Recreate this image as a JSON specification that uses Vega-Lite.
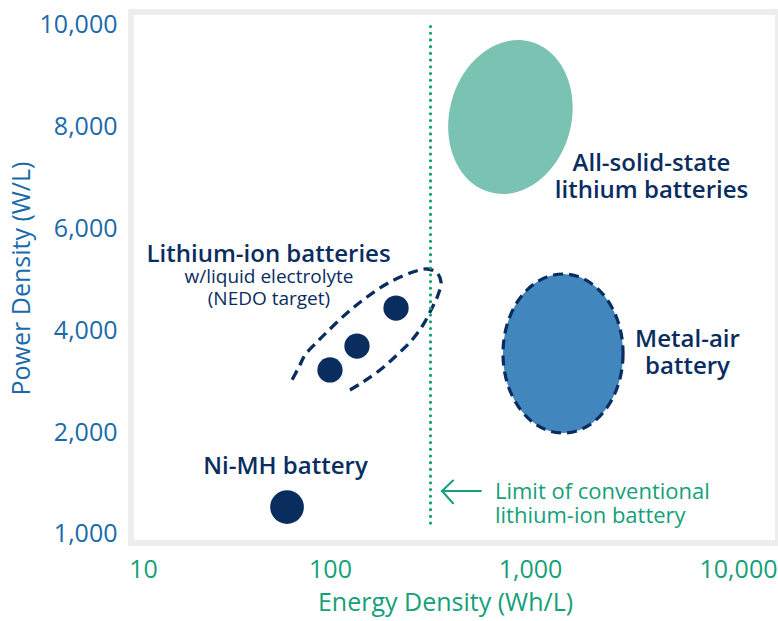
{
  "$schema": "https://vega.github.io/schema/vega-lite/v6.json",
  "width": 647,
  "height": 531,
  "autosize": {"type": "none"},
  "padding": {"left": 131, "top": 12, "right": 0, "bottom": 78},
  "background": "white",
  "config": {
    "font": "Open Sans",
    "view": {"stroke": "#000000", "strokeOpacity": 0.07, "strokeWidth": 6}
  },
  "datasets": {
    "batteries": [
      {"name": "Ni-MH battery", "group": "nimh", "energy": 56.1, "power": 1257},
      {"name": "Li-ion A", "group": "liion", "energy": 92.2, "power": 3216},
      {"name": "Li-ion B", "group": "liion", "energy": 126, "power": 3686},
      {"name": "Li-ion C", "group": "liion", "energy": 198, "power": 4431},
      {"name": "All-solid-state lithium batteries", "group": "solid", "energy": 744, "power": 8176},
      {"name": "Metal-air battery", "group": "metalair", "energy": 1367, "power": 3539}
    ],
    "outline": [
      {"i": 1, "energy": 116.2, "power": 2824},
      {"i": 2, "energy": 135.1, "power": 2980},
      {"i": 3, "energy": 164.5, "power": 3216},
      {"i": 4, "energy": 200.2, "power": 3510},
      {"i": 5, "energy": 238.1, "power": 3804},
      {"i": 6, "energy": 270.5, "power": 4098},
      {"i": 7, "energy": 300.2, "power": 4431},
      {"i": 8, "energy": 321.7, "power": 4686},
      {"i": 9, "energy": 333.1, "power": 4941},
      {"i": 10, "energy": 318.1, "power": 5118},
      {"i": 11, "energy": 283.4, "power": 5196},
      {"i": 12, "energy": 240.9, "power": 5137},
      {"i": 13, "energy": 184.6, "power": 4941},
      {"i": 14, "energy": 141.5, "power": 4647},
      {"i": 15, "energy": 112.3, "power": 4333},
      {"i": 16, "energy": 89.07, "power": 3961},
      {"i": 17, "energy": 78.44, "power": 3745},
      {"i": 18, "energy": 69.06, "power": 3510},
      {"i": 19, "energy": 64.42, "power": 3275},
      {"i": 20, "energy": 59.41, "power": 3020}
    ],
    "limit": [
      {"energy": 295, "power": 9950, "power2": 1060}
    ],
    "arrow": [
      {"seg": "shaft", "i": 0, "energy": 529, "power": 1416},
      {"seg": "shaft", "i": 1, "energy": 337, "power": 1416},
      {"seg": "head", "i": 0, "energy": 383, "power": 1520},
      {"seg": "head", "i": 1, "energy": 337, "power": 1416},
      {"seg": "head", "i": 2, "energy": 383, "power": 1295}
    ],
    "labels": [
      {"text": "Lithium-ion batteries", "energy": 45.3, "power": 5333, "kind": "title"},
      {"text": "w/liquid electrolyte\n(NEDO target)", "energy": 45.5, "power": 4912, "kind": "sub"},
      {"text": "All-solid-state\nlithium batteries", "energy": 3805, "power": 7118, "kind": "title"},
      {"text": "Metal-air\nbattery", "energy": 5771, "power": 3667, "kind": "title"},
      {"text": "Ni-MH battery", "energy": 55.1, "power": 1584, "kind": "title"},
      {"text": "Limit of conventional\nlithium-ion battery", "energy": 622, "power": 1337, "kind": "note"}
    ]
  },
  "encoding": {
    "x": {
      "field": "energy",
      "type": "quantitative",
      "scale": {"type": "log", "domain": [10, 10000], "range": [7, 604], "nice": false},
      "axis": {
        "values": [10, 100, 1000, 10000],
        "labelExpr": "format(datum.value, ',')",
        "labelFontSize": 25,
        "labelColor": "#14a07a",
        "labelPadding": 14,
        "labelOffset": {"condition": [
          {"test": "datum.value == 10", "value": 5},
          {"test": "datum.value == 100", "value": -7},
          {"test": "datum.value == 1000", "value": -6}
        ], "value": 3},
        "labelFlush": false,
        "labelOverlap": false,
        "domain": false,
        "ticks": false,
        "tickSize": 0,
        "grid": false,
        "title": "Energy Density (Wh/L)",
        "titleFontSize": 25,
        "titleColor": "#14a07a",
        "titleFontWeight": "normal",
        "titleX": 314,
        "titleY": 47,
        "titleBaseline": "top",
        "titleAlign": "center"
      }
    },
    "y": {
      "field": "power",
      "type": "quantitative",
      "scale": {"domain": [1000, 2000, 10000], "range": [521, 420, 12], "nice": false, "zero": false},
      "axis": {
        "values": [1000, 2000, 4000, 6000, 8000, 10000],
        "labelExpr": "format(datum.value, ',')",
        "labelFontSize": 25,
        "labelColor": "#1a6aab",
        "labelPadding": 14,
        "labelFlush": false,
        "labelOverlap": false,
        "domain": false,
        "ticks": false,
        "tickSize": 0,
        "grid": false,
        "title": "Power Density (W/L)",
        "titleFontSize": 25,
        "titleColor": "#1a6aab",
        "titleFontWeight": "normal",
        "titleX": -97,
        "titleY": 266,
        "titleAngle": -90,
        "titleBaseline": "bottom",
        "titleAlign": "center"
      }
    }
  },
  "layer": [
    {
      "data": {"name": "batteries"},
      "transform": [{"filter": "datum.group == 'solid'"}],
      "mark": {
        "type": "point",
        "filled": true,
        "opacity": 1,
        "color": "#7ac3b2",
        "shape": "M 0.782 0 C 0.782 0.5523 0.4319 1 0 1 C -0.4319 1 -0.782 0.5523 -0.782 0 C -0.782 -0.5523 -0.4319 -1 0 -1 C 0.4319 -1 0.782 -0.5523 0.782 0 Z",
        "size": 24336,
        "angle": 15
      }
    },
    {
      "data": {"name": "batteries"},
      "transform": [{"filter": "datum.group == 'metalair'"}],
      "mark": {
        "type": "point",
        "filled": true,
        "opacity": 1,
        "fill": "#4286be",
        "stroke": "#0a2d5f",
        "strokeWidth": 3.2,
        "strokeDash": [10, 6],
        "shape": "M 0.755 0 C 0.755 0.5523 0.417 1 0 1 C -0.417 1 -0.755 0.5523 -0.755 0 C -0.755 -0.5523 -0.417 -1 0 -1 C 0.417 -1 0.755 -0.5523 0.755 0 Z",
        "size": 25281
      }
    },
    {
      "data": {"name": "outline"},
      "mark": {
        "type": "line",
        "color": "#0a2d5f",
        "strokeWidth": 3.3,
        "strokeDash": [10, 6],
        "interpolate": "catmull-rom"
      },
      "encoding": {"order": {"field": "i", "type": "quantitative"}}
    },
    {
      "data": {"name": "batteries"},
      "transform": [{"filter": "datum.group == 'liion'"}],
      "mark": {"type": "point", "shape": "circle", "filled": true, "opacity": 1, "color": "#0a2d5f", "size": 638}
    },
    {
      "data": {"name": "batteries"},
      "transform": [{"filter": "datum.group == 'nimh'"}],
      "mark": {"type": "point", "shape": "circle", "filled": true, "opacity": 1, "color": "#0a2d5f", "size": 1134}
    },
    {
      "data": {"name": "limit"},
      "mark": {
        "type": "rule",
        "color": "#14a07a",
        "strokeWidth": 3.2,
        "strokeCap": "round",
        "strokeDash": [0.01, 6.7]
      },
      "encoding": {"y2": {"field": "power2"}}
    },
    {
      "data": {"name": "arrow"},
      "mark": {"type": "line", "color": "#14a07a", "strokeWidth": 2, "strokeCap": "round", "strokeJoin": "miter"},
      "encoding": {
        "detail": {"field": "seg", "type": "nominal"},
        "order": {"field": "i", "type": "quantitative"}
      }
    },
    {
      "data": {"name": "labels"},
      "transform": [{"filter": "datum.kind == 'title'"}],
      "mark": {
        "type": "text",
        "align": "center",
        "baseline": "alphabetic",
        "fontSize": 24,
        "fontWeight": 600,
        "lineHeight": 27,
        "lineBreak": "\n",
        "color": "#0a2d5f"
      },
      "encoding": {"text": {"field": "text", "type": "nominal"}}
    },
    {
      "data": {"name": "labels"},
      "transform": [{"filter": "datum.kind == 'sub'"}],
      "mark": {
        "type": "text",
        "align": "center",
        "baseline": "alphabetic",
        "fontSize": 19,
        "lineHeight": 21.5,
        "lineBreak": "\n",
        "color": "#0a2d5f"
      },
      "encoding": {"text": {"field": "text", "type": "nominal"}}
    },
    {
      "data": {"name": "labels"},
      "transform": [{"filter": "datum.kind == 'note'"}],
      "mark": {
        "type": "text",
        "align": "left",
        "baseline": "alphabetic",
        "fontSize": 22,
        "lineHeight": 24,
        "lineBreak": "\n",
        "color": "#14a07a"
      },
      "encoding": {"text": {"field": "text", "type": "nominal"}}
    }
  ]
}
